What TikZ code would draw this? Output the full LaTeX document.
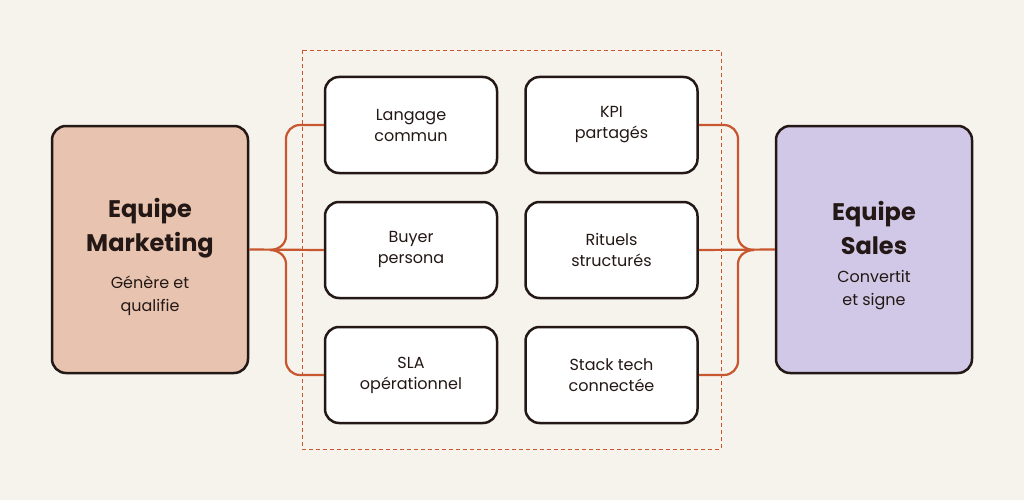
\documentclass[tikz,border=0pt]{standalone}
\usepackage{fontspec}
\setmainfont{Poppins}
\definecolor{bg}{HTML}{F5F3EC}
\definecolor{ink}{HTML}{231815}
\definecolor{org}{HTML}{C8562E}
\definecolor{mk}{HTML}{E8C4B0}
\definecolor{sl}{HTML}{D0C8E6}
\begin{document}
\begin{tikzpicture}[x=1pt,y=-1pt,
 big/.style={draw=ink,line width=2.5pt,rounded corners=14pt,minimum width=196pt,minimum height=247pt,align=center,inner sep=0pt},
 small/.style={draw=ink,line width=2.5pt,rounded corners=14pt,fill=white,minimum width=172pt,minimum height=96pt,align=center,font=\fontsize{16}{21}\selectfont,text=ink},
 conn/.style={draw=org,line width=2.2pt},
 ttl/.style={font=\fontsize{24}{34}\selectfont\bfseries,text=ink,align=center},
 sub/.style={font=\fontsize{16}{23}\selectfont,text=ink,align=center}]
\fill[bg] (0,0) rectangle (1024,500);
\useasboundingbox (0,0) rectangle (1024,500);
\draw[org,line width=0.8pt,dash pattern=on 4pt off 3pt] (302,50) rectangle (721,449);
\node[big,fill=mk] (L) at (150,249.5) {};
\node[big,fill=sl] (R) at (874,249.5) {};
\node[ttl] (Lt) at (150,228) {Equipe\\Marketing};
\node[sub] (Ls) at (150,296) {Génère et\\qualifie};
\node[ttl] (Rt) at (874,228) {Equipe\\Sales};
\node[sub] (Rs) at (874,290) {Convertit\\et signe};
\node[small] (a1) at (411,125) {Langage\\commun};
\node[small] (a2) at (411,250) {Buyer\\persona};
\node[small] (a3) at (411,375) {SLA\\opérationnel};
\node[small] (b1) at (611.5,125) {KPI\\partagés};
\node[small] (b2) at (611.5,250) {Rituels\\structurés};
\node[small] (b3) at (611.5,375) {Stack tech\\connectée};
\coordinate (lj) at (270,250);
\coordinate (rj) at (754,250);
\draw[conn] (L.east) -- (a2.west);
\draw[conn] (lj) to[out=0,in=-90] (286,236) -- (286,139) to[out=90,in=180] (300,125) -- (a1.west);
\draw[conn] (lj) to[out=0,in=90] (286,264) -- (286,361) to[out=-90,in=180] (300,375) -- (a3.west);
\draw[conn] (b2.east) -- (R.west);
\draw[conn] (rj) to[out=180,in=-90] (738,236) -- (738,139) to[out=90,in=0] (724,125) -- (b1.east);
\draw[conn] (rj) to[out=180,in=90] (738,264) -- (738,361) to[out=-90,in=0] (724,375) -- (b3.east);
\end{tikzpicture}
\end{document}
